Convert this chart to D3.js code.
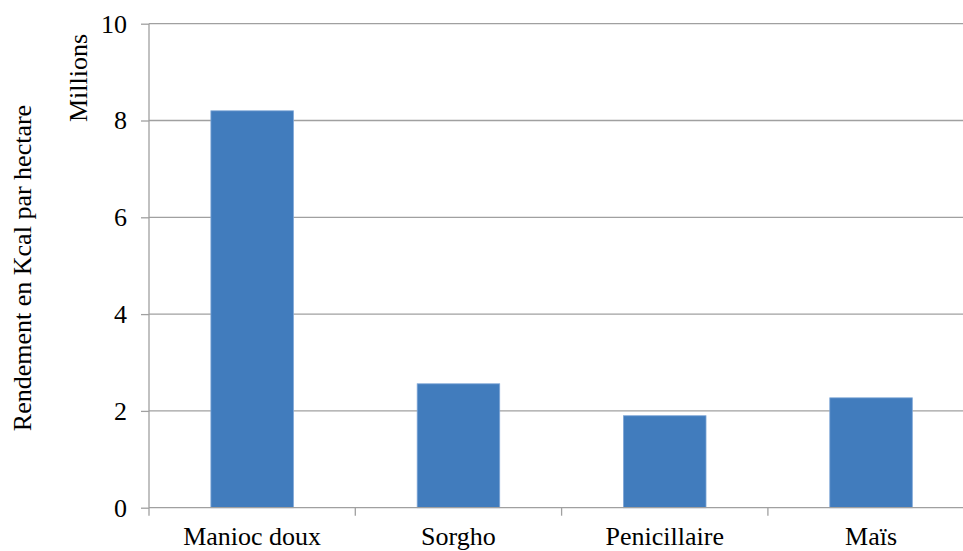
<!DOCTYPE html>
<html><head><meta charset="utf-8">
<script src="https://cdn.jsdelivr.net/npm/d3@7"></script>
<style>body{margin:0;background:#fff;overflow:hidden}svg{display:block}</style>
</head><body>
<script>
const categories = ["Manioc doux", "Sorgho", "Penicillaire", "Maïs"];
const values = [8.2, 2.56, 1.9, 2.27];
const yTicks = [0, 2, 4, 6, 8, 10];

const W = 963, H = 551;
const mLeft = 149, mTop = 23.7, mBottom = 507.7, plotW = 825.2;
const svg = d3.select("body").append("svg").attr("width", W).attr("height", H);
const font = "'Liberation Serif','Times New Roman',serif";

const x = d3.scaleBand().domain(categories).range([mLeft, mLeft + plotW]).paddingInner(0.6).paddingOuter(0.3);
const xb = d3.scaleBand().domain(categories).range([mLeft, mLeft + plotW]);
const y = d3.scaleLinear().domain([0, 10]).range([mBottom, mTop]);

// gridlines
svg.append("g").selectAll("line").data(yTicks.filter(d => d > 0)).join("line")
  .attr("x1", mLeft).attr("x2", mLeft + plotW)
  .attr("y1", d => y(d)).attr("y2", d => y(d))
  .attr("stroke", "#a0a0a0").attr("stroke-width", 1.3);

// bars
svg.append("g").selectAll("rect").data(values).join("rect")
  .attr("x", (d, i) => x(categories[i]))
  .attr("y", d => y(d))
  .attr("width", x.bandwidth())
  .attr("height", d => y(0) - y(d))
  .attr("fill", "#417cbd").attr("stroke", "#7ea6d6").attr("stroke-width", 0.8);

// y axis
const ya = svg.append("g").attr("transform", `translate(${mLeft},0)`)
  .call(d3.axisLeft(y).tickValues(yTicks).tickSize(8).tickPadding(14).tickFormat(d3.format("d")));
ya.select(".domain").remove();
ya.append("line").attr("x1", 0).attr("x2", 0).attr("y1", mTop).attr("y2", mBottom).attr("stroke", "#a0a0a0").attr("stroke-width", 1.3);
ya.selectAll(".tick line").attr("stroke", "#a0a0a0").attr("stroke-width", 1.3);
ya.selectAll("text").attr("font-family", font).attr("font-size", 26).attr("fill", "#000");

// x axis
const xa = svg.append("g").attr("transform", `translate(0,${mBottom})`);
xa.append("line").attr("x1", mLeft).attr("x2", mLeft + plotW).attr("stroke", "#a0a0a0").attr("stroke-width", 1.3);
xa.selectAll("line.tk").data(categories).join("line").attr("class", "tk")
  .attr("x1", d => xb(d)).attr("x2", d => xb(d)).attr("y1", 0).attr("y2", 8)
  .attr("stroke", "#a0a0a0").attr("stroke-width", 1.3);
xa.selectAll("text").data(categories).join("text")
  .attr("x", d => xb(d) + xb.bandwidth() / 2).attr("y", 37)
  .attr("text-anchor", "middle").attr("font-family", font).attr("font-size", 26).attr("fill", "#000")
  .text(d => d);

// axis titles
svg.append("text").attr("transform", "translate(31,268) rotate(-90)")
  .attr("text-anchor", "middle").attr("font-family", font).attr("font-size", 26).text("Rendement en Kcal par hectare");
svg.append("text").attr("transform", "translate(87,78) rotate(-90)")
  .attr("text-anchor", "middle").attr("font-family", font).attr("font-size", 26).text("Millions");
</script>
</body></html>
